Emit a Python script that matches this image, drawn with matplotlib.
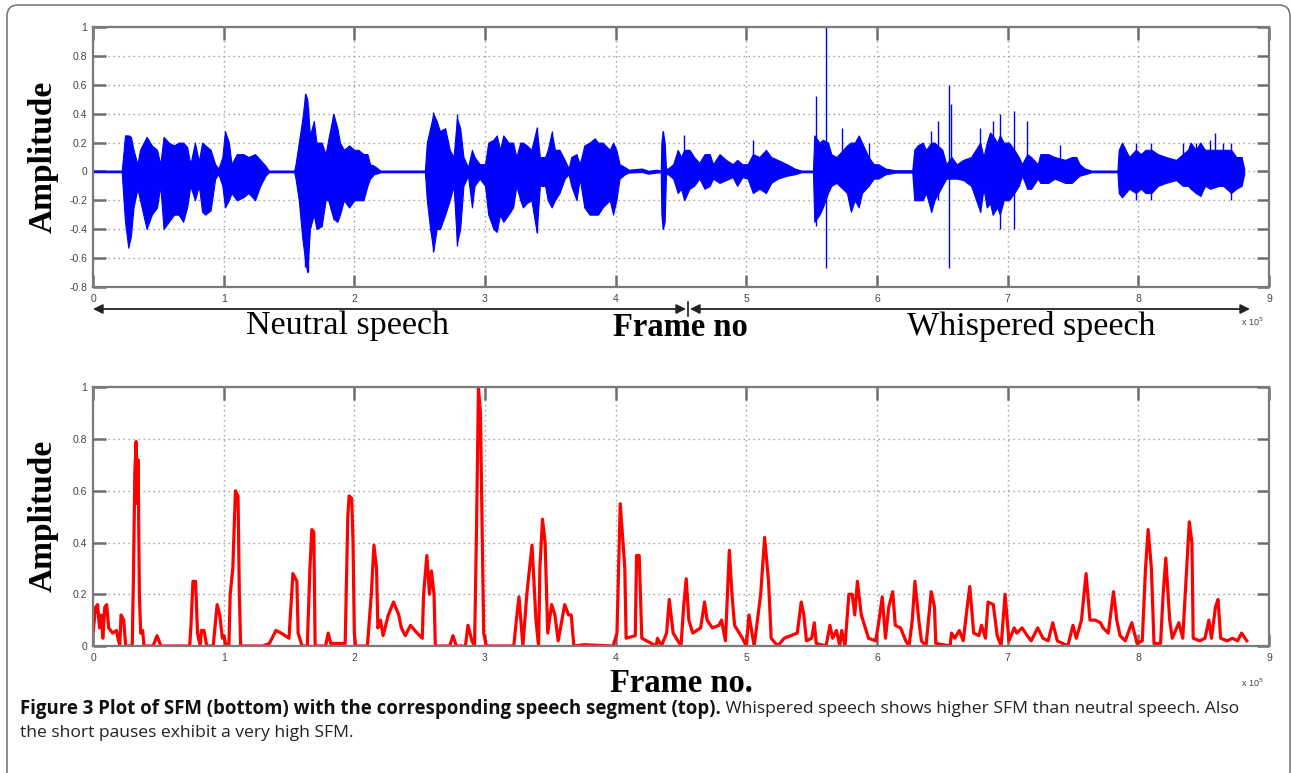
import matplotlib
matplotlib.use("Agg")
import matplotlib.pyplot as plt
from matplotlib.patches import FancyBboxPatch
from matplotlib.transforms import IdentityTransform
from matplotlib.ticker import FuncFormatter

W, H = 1291, 773

# speech waveform envelope, x in units of 1e5 frames
wave_x = [0.0, 0.22, 0.23, 0.245, 0.27, 0.29, 0.31, 0.34, 0.36, 0.41,
          0.45, 0.49, 0.515, 0.54, 0.58, 0.62, 0.655, 0.69, 0.72, 0.745,
          0.78, 0.81, 0.835, 0.86, 0.90, 0.935, 0.96, 0.99, 1.01, 1.04,
          1.06, 1.10, 1.15, 1.19, 1.24, 1.28, 1.32, 1.345, 1.54, 1.55,
          1.575, 1.60, 1.625, 1.64, 1.66, 1.69, 1.71, 1.75, 1.78, 1.80,
          1.84, 1.87, 1.89, 1.92, 1.96, 2.00, 2.03, 2.07, 2.10, 2.12,
          2.15, 2.20, 2.54, 2.555, 2.58, 2.605, 2.63, 2.655, 2.695, 2.73,
          2.76, 2.785, 2.81, 2.835, 2.87, 2.90, 2.92, 2.96, 3.00, 3.025,
          3.065, 3.09, 3.115, 3.14, 3.18, 3.215, 3.24, 3.27, 3.29, 3.32,
          3.355, 3.395, 3.42, 3.46, 3.48, 3.51, 3.535, 3.57, 3.61, 3.64,
          3.66, 3.70, 3.725, 3.76, 3.80, 3.84, 3.865, 3.90, 3.955, 3.98,
          4.005, 4.03, 4.07, 4.10, 4.20, 4.25, 4.31, 4.345, 4.35, 4.36,
          4.375, 4.385, 4.40, 4.44, 4.475, 4.50, 4.525, 4.565, 4.60, 4.64,
          4.68, 4.72, 4.745, 4.795, 4.845, 4.895, 4.93, 4.97, 5.01, 5.05,
          5.10, 5.15, 5.19, 5.24, 5.31, 5.37, 5.42, 5.51, 5.52, 5.56,
          5.585, 5.625, 5.65, 5.69, 5.77, 5.80, 5.83, 5.86, 5.885, 5.935,
          5.975, 6.01, 6.065, 6.14, 6.27, 6.285, 6.31, 6.35, 6.375, 6.415,
          6.44, 6.50, 6.53, 6.57, 6.61, 6.66, 6.72, 6.79, 6.815, 6.84,
          6.865, 6.885, 6.92, 6.94, 6.97, 7.01, 7.05, 7.085, 7.11, 7.15,
          7.18, 7.23, 7.25, 7.31, 7.36, 7.44, 7.49, 7.525, 7.55, 7.59,
          7.64, 7.84, 7.85, 7.875, 7.93, 7.98, 8.02, 8.055, 8.10, 8.15,
          8.21, 8.29, 8.34, 8.38, 8.40, 8.44, 8.475, 8.51, 8.55, 8.62,
          8.65, 8.71, 8.75, 8.79, 8.81]
wave_hi = [0.005, 0.006, 0.10, 0.25, 0.25, 0.24, 0.15, 0.05, 0.15, 0.24,
           0.18, 0.15, 0.05, 0.24, 0.20, 0.18, 0.20, 0.20, 0.17, 0.05,
           0.20, 0.07, 0.20, 0.18, 0.15, 0.05, 0.02, 0.10, 0.28, 0.20,
           0.05, 0.12, 0.12, 0.10, 0.12, 0.08, 0.04, 0.006, 0.006, 0.05,
           0.20, 0.35, 0.54, 0.50, 0.25, 0.35, 0.20, 0.20, 0.12, 0.22,
           0.40, 0.30, 0.20, 0.15, 0.18, 0.15, 0.15, 0.12, 0.12, 0.05,
           0.04, 0.006, 0.006, 0.20, 0.30, 0.40, 0.35, 0.28, 0.30, 0.15,
           0.10, 0.37, 0.30, 0.10, 0.03, 0.15, 0.10, 0.05, 0.05, 0.20,
           0.22, 0.25, 0.15, 0.25, 0.20, 0.20, 0.10, 0.20, 0.20, 0.18,
           0.15, 0.30, 0.10, 0.10, 0.15, 0.27, 0.15, 0.15, 0.08, 0.02,
           0.10, 0.12, 0.05, 0.18, 0.20, 0.23, 0.20, 0.20, 0.15, 0.20,
           0.15, 0.05, 0.03, 0.012, 0.02, 0.004, 0.012, 0.006, 0.20, 0.28,
           0.20, 0.02, 0.02, 0.05, 0.15, 0.10, 0.15, 0.15, 0.10, 0.06,
           0.12, 0.12, 0.05, 0.12, 0.08, 0.05, 0.08, 0.05, 0.05, 0.12,
           0.10, 0.15, 0.10, 0.08, 0.05, 0.02, 0.006, 0.006, 0.25, 0.20,
           0.22, 0.20, 0.12, 0.10, 0.18, 0.20, 0.20, 0.25, 0.20, 0.10,
           0.05, 0.05, 0.02, 0.008, 0.008, 0.15, 0.18, 0.20, 0.15, 0.20,
           0.20, 0.15, 0.05, 0.10, 0.05, 0.08, 0.10, 0.20, 0.10, 0.20,
           0.27, 0.25, 0.20, 0.25, 0.20, 0.20, 0.15, 0.10, 0.05, 0.12,
           0.10, 0.05, 0.12, 0.12, 0.10, 0.08, 0.10, 0.10, 0.05, 0.02,
           0.006, 0.006, 0.15, 0.20, 0.10, 0.15, 0.12, 0.15, 0.15, 0.12,
           0.10, 0.08, 0.12, 0.15, 0.20, 0.15, 0.20, 0.15, 0.15, 0.15,
           0.15, 0.15, 0.10, 0.10, 0.02]
wave_lo = [-0.005, -0.006, -0.15, -0.35, -0.53, -0.45, -0.25, -0.12, -0.20, -0.40,
           -0.30, -0.25, -0.10, -0.40, -0.35, -0.30, -0.30, -0.35, -0.25, -0.10,
           -0.20, -0.10, -0.28, -0.30, -0.27, -0.05, -0.02, -0.10, -0.25, -0.20,
           -0.15, -0.20, -0.18, -0.15, -0.20, -0.10, -0.03, -0.006, -0.006, -0.05,
           -0.20, -0.45, -0.63, -0.70, -0.40, -0.30, -0.40, -0.38, -0.20, -0.20,
           -0.33, -0.35, -0.30, -0.20, -0.25, -0.20, -0.20, -0.20, -0.10, -0.05,
           -0.02, -0.006, -0.006, -0.20, -0.40, -0.55, -0.40, -0.40, -0.30, -0.20,
           -0.10, -0.50, -0.40, -0.10, -0.03, -0.25, -0.10, -0.05, -0.10, -0.30,
           -0.40, -0.42, -0.30, -0.35, -0.30, -0.25, -0.10, -0.20, -0.25, -0.22,
           -0.20, -0.42, -0.10, -0.10, -0.20, -0.25, -0.20, -0.15, -0.05, -0.02,
           -0.10, -0.20, -0.05, -0.25, -0.30, -0.30, -0.30, -0.25, -0.20, -0.30,
           -0.20, -0.05, -0.02, -0.008, -0.004, -0.016, -0.008, -0.006, -0.30, -0.40,
           -0.35, -0.02, -0.02, -0.05, -0.15, -0.12, -0.20, -0.12, -0.10, -0.05,
           -0.12, -0.10, -0.05, -0.08, -0.06, -0.04, -0.10, -0.04, -0.05, -0.15,
           -0.12, -0.15, -0.08, -0.05, -0.03, -0.02, -0.006, -0.006, -0.35, -0.30,
           -0.25, -0.15, -0.10, -0.08, -0.15, -0.28, -0.20, -0.25, -0.15, -0.10,
           -0.05, -0.05, -0.02, -0.008, -0.008, -0.20, -0.20, -0.20, -0.15, -0.28,
           -0.20, -0.10, -0.05, -0.05, -0.05, -0.06, -0.10, -0.28, -0.12, -0.25,
           -0.22, -0.30, -0.25, -0.30, -0.20, -0.20, -0.15, -0.10, -0.03, -0.12,
           -0.12, -0.05, -0.08, -0.08, -0.05, -0.08, -0.08, -0.05, -0.03, -0.02,
           -0.006, -0.006, -0.15, -0.18, -0.12, -0.15, -0.12, -0.15, -0.15, -0.10,
           -0.08, -0.06, -0.10, -0.10, -0.12, -0.15, -0.17, -0.10, -0.12, -0.10,
           -0.10, -0.15, -0.12, -0.10, -0.02]

# isolated clicks / bursts sticking out of the envelope
spike_x = [1.62, 1.645, 1.84, 2.605, 2.785, 3.395, 3.51, 4.36, 4.525, 5.05,
           5.535, 5.607, 5.73, 5.935, 6.415, 6.47, 6.55, 6.57, 6.79, 6.885,
           6.94, 7.05, 7.15, 7.40, 7.98, 8.10, 8.34, 8.44, 8.55, 8.59,
           8.65, 8.71]
spike_hi = [0.54, 0.45, 0.40, 0.41, 0.40, 0.31, 0.28, 0.28, 0.25, 0.22,
            0.52, 1.00, 0.30, 0.20, 0.28, 0.35, 0.60, 0.47, 0.30, 0.35,
            0.40, 0.42, 0.35, 0.18, 0.20, 0.20, 0.20, 0.20, 0.22, 0.27,
            0.20, 0.20]
spike_lo = [-0.66, -0.70, -0.30, -0.56, -0.52, -0.43, -0.22, -0.40, -0.20, -0.10,
            -0.38, -0.67, -0.10, -0.10, -0.28, -0.20, -0.67, -0.05, -0.28, -0.30,
            -0.40, -0.40, -0.12, -0.05, -0.20, -0.20, -0.10, -0.15, -0.12, -0.10,
            -0.10, -0.20]

# spectral flatness measure per frame
sfm_x = [0.00, 0.02, 0.035, 0.05, 0.065, 0.075, 0.09, 0.105, 0.12, 0.15,
         0.18, 0.195, 0.205, 0.215, 0.235, 0.25, 0.30, 0.31, 0.32, 0.33,
         0.34, 0.345, 0.355, 0.365, 0.38, 0.39, 0.46, 0.49, 0.52, 0.74,
         0.75, 0.765, 0.785, 0.80, 0.82, 0.83, 0.85, 0.87, 0.92, 0.935,
         0.95, 0.97, 0.99, 1.00, 1.02, 1.04, 1.05, 1.07, 1.09, 1.11,
         1.12, 1.13, 1.30, 1.35, 1.40, 1.44, 1.50, 1.53, 1.56, 1.57,
         1.60, 1.64, 1.66, 1.675, 1.69, 1.70, 1.78, 1.80, 1.82, 1.93,
         1.95, 1.96, 1.98, 1.99, 2.00, 2.01, 2.10, 2.13, 2.15, 2.17,
         2.18, 2.20, 2.22, 2.26, 2.30, 2.34, 2.36, 2.39, 2.43, 2.48,
         2.52, 2.53, 2.555, 2.575, 2.59, 2.61, 2.62, 2.73, 2.755, 2.78,
         2.85, 2.87, 2.90, 2.92, 2.935, 2.95, 2.965, 2.99, 3.01, 3.22,
         3.24, 3.26, 3.29, 3.32, 3.36, 3.39, 3.41, 3.42, 3.44, 3.46,
         3.48, 3.51, 3.535, 3.56, 3.61, 3.64, 3.66, 3.68, 3.76, 3.98,
         4.01, 4.035, 4.07, 4.08, 4.15, 4.16, 4.18, 4.20, 4.31, 4.32,
         4.35, 4.39, 4.41, 4.44, 4.50, 4.52, 4.54, 4.56, 4.59, 4.65,
         4.68, 4.70, 4.74, 4.79, 4.81, 4.84, 4.87, 4.89, 4.91, 4.97,
         5.00, 5.02, 5.06, 5.11, 5.14, 5.17, 5.19, 5.24, 5.29, 5.34,
         5.39, 5.42, 5.44, 5.46, 5.50, 5.52, 5.535, 5.61, 5.64, 5.66,
         5.69, 5.715, 5.73, 5.755, 5.785, 5.81, 5.83, 5.85, 5.88, 5.935,
         5.99, 6.01, 6.04, 6.065, 6.09, 6.12, 6.14, 6.18, 6.22, 6.245,
         6.27, 6.29, 6.32, 6.34, 6.375, 6.415, 6.44, 6.45, 6.56, 6.57,
         6.595, 6.63, 6.66, 6.69, 6.71, 6.74, 6.78, 6.80, 6.83, 6.85,
         6.89, 6.92, 6.95, 6.98, 7.01, 7.05, 7.07, 7.11, 7.15, 7.18,
         7.23, 7.27, 7.31, 7.345, 7.38, 7.46, 7.50, 7.525, 7.565, 7.60,
         7.63, 7.67, 7.71, 7.73, 7.77, 7.81, 7.835, 7.86, 7.90, 7.95,
         7.99, 8.03, 8.055, 8.075, 8.10, 8.12, 8.17, 8.19, 8.21, 8.24,
         8.26, 8.31, 8.34, 8.37, 8.39, 8.41, 8.42, 8.47, 8.51, 8.54,
         8.56, 8.59, 8.61, 8.63, 8.68, 8.72, 8.76, 8.79, 8.83]
sfm_y = [0.05, 0.15, 0.16, 0.07, 0.12, 0.03, 0.15, 0.16, 0.07, 0.05,
         0.06, 0.02, 0.005, 0.12, 0.10, 0.0, 0.0, 0.28, 0.67, 0.79,
         0.55, 0.72, 0.20, 0.05, 0.06, 0.0, 0.0, 0.04, 0.0, 0.0,
         0.08, 0.25, 0.25, 0.05, 0.0, 0.06, 0.06, 0.0, 0.0, 0.08,
         0.16, 0.12, 0.03, 0.04, 0.0, 0.0, 0.20, 0.30, 0.60, 0.58,
         0.20, 0.0, 0.0, 0.01, 0.06, 0.05, 0.03, 0.28, 0.25, 0.05,
         0.0, 0.0, 0.30, 0.45, 0.44, 0.0, 0.0, 0.05, 0.01, 0.01,
         0.50, 0.58, 0.57, 0.40, 0.05, 0.0, 0.0, 0.20, 0.39, 0.30,
         0.07, 0.10, 0.04, 0.12, 0.17, 0.12, 0.07, 0.04, 0.08, 0.05,
         0.03, 0.20, 0.35, 0.20, 0.29, 0.20, 0.0, 0.0, 0.04, 0.0,
         0.0, 0.08, 0.02, 0.0, 0.45, 1.0, 0.90, 0.05, 0.0, 0.0,
         0.10, 0.19, 0.0, 0.20, 0.39, 0.10, 0.0, 0.30, 0.49, 0.40,
         0.05, 0.16, 0.12, 0.02, 0.16, 0.12, 0.12, 0.0, 0.005, 0.0,
         0.05, 0.55, 0.30, 0.03, 0.04, 0.35, 0.35, 0.03, 0.0, 0.03,
         0.0, 0.05, 0.18, 0.05, 0.0, 0.15, 0.26, 0.10, 0.05, 0.07,
         0.17, 0.10, 0.07, 0.08, 0.10, 0.02, 0.37, 0.20, 0.08, 0.03,
         0.0, 0.12, 0.0, 0.20, 0.42, 0.25, 0.03, 0.0, 0.03, 0.04,
         0.05, 0.17, 0.12, 0.02, 0.03, 0.09, 0.01, 0.0, 0.08, 0.03,
         0.06, 0.0, 0.06, 0.0, 0.20, 0.20, 0.12, 0.25, 0.12, 0.03,
         0.02, 0.08, 0.19, 0.03, 0.15, 0.21, 0.08, 0.07, 0.02, 0.0,
         0.10, 0.25, 0.10, 0.02, 0.0, 0.21, 0.15, 0.01, 0.0, 0.05,
         0.03, 0.06, 0.02, 0.15, 0.23, 0.05, 0.04, 0.08, 0.03, 0.17,
         0.16, 0.04, 0.0, 0.20, 0.02, 0.07, 0.05, 0.07, 0.04, 0.02,
         0.07, 0.03, 0.02, 0.09, 0.02, 0.0, 0.08, 0.03, 0.10, 0.28,
         0.10, 0.10, 0.09, 0.07, 0.05, 0.21, 0.10, 0.04, 0.02, 0.09,
         0.01, 0.02, 0.30, 0.45, 0.30, 0.01, 0.01, 0.20, 0.34, 0.10,
         0.03, 0.09, 0.03, 0.30, 0.48, 0.40, 0.03, 0.02, 0.03, 0.10,
         0.03, 0.15, 0.18, 0.03, 0.02, 0.03, 0.02, 0.05, 0.02]

x_ticks = list(range(10))
top_yticks = [-0.8, -0.6, -0.4, -0.2, 0, 0.2, 0.4, 0.6, 0.8, 1]
bottom_yticks = [0, 0.2, 0.4, 0.6, 0.8, 1]

SERIF = "Liberation Serif"
SANS = "Liberation Sans"


def px(x, y):
    # pixel position (from the top-left) to figure fraction
    return x / W, 1 - y / H


def style_axes(ax, yticks):
    ax.set_xlim(0, 9)
    ax.set_xticks(x_ticks)
    ax.set_yticks(yticks)
    ax.yaxis.set_major_formatter(FuncFormatter(lambda v, p: "%g" % v))
    for s in ax.spines.values():
        s.set_color("#7a7a7a")
        s.set_linewidth(1.6)
    ax.tick_params(direction="in", length=9, width=1.8, color="#6e6e6e",
                   top=True, right=True, labelsize=7.5, labelcolor="#444444")
    ax.tick_params(axis="x", pad=5)
    ax.tick_params(axis="y", pad=4)
    for lab in ax.get_xticklabels() + ax.get_yticklabels():
        lab.set_family(SANS)
    ax.grid(True, linestyle=(0, (1, 2.6)), color="#9a9a9a", linewidth=1.0)
    ax.set_axisbelow(True)


fig = plt.figure(figsize=(W / 100, H / 100), dpi=100)

# rounded frame around the figure
frame = FancyBboxPatch((7, -60), 1283, 828, boxstyle="round,pad=0,rounding_size=11",
                       transform=IdentityTransform(), facecolor="none",
                       edgecolor="#7a7a7a", linewidth=1.2)
fig.patches.append(frame)

l, r = 93 / W, 1269 / W
ax1 = fig.add_axes([l, 1 - 286.7 / H, r - l, (286.7 - 27.3) / H])
ax2 = fig.add_axes([l, 1 - 646 / H, r - l, (646 - 387.3) / H])

# top: speech waveform
ax1.fill_between(wave_x, wave_lo, wave_hi, color="#0000ff", linewidth=0.8)
ax1.vlines(spike_x, spike_lo, spike_hi, color="#0000ff", linewidth=1.0)
ax1.set_ylim(-0.8, 1)
style_axes(ax1, top_yticks)

# bottom: SFM
ax2.plot(sfm_x, sfm_y, color="#ff0000", linewidth=2.3)
ax2.set_ylim(0, 1)
style_axes(ax2, bottom_yticks)

# y labels
for yc in (157, 516):
    fig.text(*px(43, yc), "Amplitude", rotation=90, ha="center", va="center",
             family=SERIF, weight="bold", fontsize=24)

# segment arrows under the waveform
arrow_kw = dict(arrowstyle="<|-|>", color="#222222", lw=1.3, mutation_scale=14,
                shrinkA=0, shrinkB=0)
fig.add_artist(plt.Annotation("", xy=px(686, 309), xytext=px(93, 309),
                              xycoords="figure fraction", textcoords="figure fraction",
                              arrowprops=arrow_kw))
fig.add_artist(plt.Annotation("", xy=px(1250, 309), xytext=px(690, 309),
                              xycoords="figure fraction", textcoords="figure fraction",
                              arrowprops=arrow_kw))
fig.add_artist(plt.Line2D([688 / W, 688 / W], [1 - 302 / H, 1 - 316 / H],
                          transform=fig.transFigure, color="#222222", lw=1.2))

fig.text(*px(348, 326), "Neutral speech", ha="center", va="center",
         family=SERIF, fontsize=24.5)
fig.text(*px(680, 328), "Frame no", ha="center", va="center",
         family=SERIF, weight="bold", fontsize=23.5)
fig.text(*px(1031, 326), "Whispered speech", ha="center", va="center",
         family=SERIF, fontsize=24.5)
fig.text(*px(681, 683), "Frame no.", ha="center", va="center",
         family=SERIF, weight="bold", fontsize=23.5)

# axis multipliers
for yc in (322, 683):
    fig.text(*px(1252, yc), r"x 10$^{5}$", ha="center", va="center",
             family=SANS, fontsize=6.5, color="#444444")

# caption
cap_bold = "Figure 3 Plot of SFM (bottom) with the corresponding speech segment (top)."
cap_rest = " Whispered speech shows higher SFM than neutral speech. Also"
cap_line2 = "the short pauses exhibit a very high SFM."
t1 = fig.text(*px(20, 709), cap_bold, ha="left", va="center", family="Open Sans",
              weight="bold", fontsize=13.4, color="#111111")
fig.canvas.draw()
bb = t1.get_window_extent()
fig.text((bb.x1) / W, 1 - 709 / H, cap_rest, ha="left", va="center",
         family="Open Sans", fontsize=12.6, color="#222222")
fig.text(*px(20, 733), cap_line2, ha="left", va="center", family="Open Sans",
         fontsize=12.6, color="#222222")

fig.savefig("out.png", dpi=100)
